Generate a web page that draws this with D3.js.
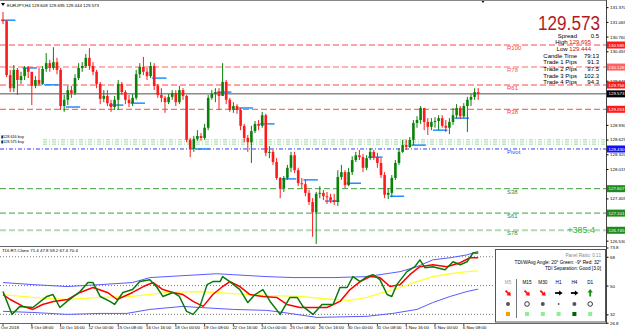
<!DOCTYPE html>
<html>
<head>
<meta charset="utf-8">
<script src="https://cdnjs.cloudflare.com/ajax/libs/d3/7.8.5/d3.min.js"></script>
<style>
  body { margin: 0; background: #fff; }
  svg { display: block; font-family: "Liberation Sans", Arial, sans-serif; }
</style>
</head>
<body>
<div id="chart"></div>
<script>
// ----- data -----
const symbolHeader = "EURJPY,H4  129.608 129.695 129.444 129.573";
const firstOpen = 131.10;
const lastOpen = 129.608;

const closes = [
  131.08, 129.96, 129.69, 130.07, 129.86, 129.94, 130.11, 130.03, 129.74, 129.86,
  129.78, 130.09, 130.21, 130.11, 130.23, 130.07, 129.32, 129.45, 129.65, 129.59,
  129.90, 130.11, 130.15, 130.32, 130.15, 130.03, 129.78, 129.47, 129.53, 129.38,
  129.30, 129.45, 129.78, 129.61, 129.45, 129.38, 129.49, 129.98, 130.13, 130.03,
  129.94, 130.15, 129.74, 129.55, 129.49, 129.40, 129.51, 129.59, 129.40, 129.65,
  129.53, 128.62, 128.43, 128.64, 128.70, 128.66, 128.87, 129.49, 129.57, 129.61,
  129.53, 129.82, 129.45, 129.24, 129.32, 129.24, 128.91, 128.66, 128.57, 128.80,
  128.95, 128.91, 129.13, 128.35, 128.37, 128.16, 127.83, 127.62, 127.83, 128.04,
  128.30, 127.99, 127.72, 127.70, 127.52, 127.33, 127.12, 127.50, 127.52, 127.45,
  127.43, 127.37, 127.33, 127.85, 127.95, 127.68, 127.95, 128.20, 128.30, 128.26,
  128.04, 128.24, 128.37, 128.26, 128.14, 127.89, 127.48, 127.52, 127.83, 128.14,
  128.37, 128.51, 128.47, 128.62, 128.97, 129.03, 129.28, 128.99, 128.89, 128.99,
  129.01, 129.07, 128.91, 128.87, 128.99, 129.13, 129.28, 129.11, 129.32, 129.45,
  129.51, 129.608, 129.573
];
const highs = [
  131.27, 131.10, 130.07, 130.17, 130.11, 130.03, 130.15, 130.15, 129.98, 129.94,
  130.11, 130.15, 130.42, 130.28, 130.54, 130.32, 130.11, 129.55, 129.74, 129.74,
  129.98, 130.21, 130.23, 130.40, 130.52, 130.23, 130.07, 129.82, 129.65, 129.65,
  129.45, 129.53, 129.86, 129.82, 129.65, 129.55, 129.57, 130.07, 130.21, 130.34,
  130.11, 130.23, 130.21, 129.78, 129.69, 129.53, 129.57, 129.65, 129.65, 129.74,
  129.69, 129.55, 128.66, 128.70, 128.82, 128.76, 128.95, 129.55, 129.65, 129.69,
  129.69, 130.21, 129.86, 129.49, 129.40, 129.36, 129.28, 128.95, 128.72, 128.91,
  129.01, 129.03, 129.20, 129.16, 128.49, 128.41, 128.24, 127.85, 127.87, 128.10,
  128.37, 128.37, 128.04, 127.83, 127.79, 127.58, 127.41, 127.54, 127.66, 127.58,
  127.54, 127.50, 127.50, 127.99, 128.10, 127.99, 128.04, 128.28, 128.37, 128.41,
  128.33, 128.30, 128.45, 128.41, 128.35, 128.24, 127.95, 127.62, 127.89, 128.20,
  128.45, 128.62, 128.62, 128.68, 129.03, 129.11, 129.32, 129.28, 129.07, 129.07,
  129.09, 129.13, 129.13, 129.03, 129.07, 129.28, 129.36, 129.32, 129.38, 129.51,
  129.57, 129.69, 129.695
];
const lows = [
  131.02, 129.92, 129.61, 129.61, 129.55, 129.78, 129.86, 129.90, 129.34, 129.69,
  129.74, 129.76, 130.03, 130.03, 130.07, 129.98, 129.24, 129.20, 129.34, 129.49,
  129.55, 129.86, 130.03, 130.11, 130.07, 129.96, 129.69, 129.36, 129.40, 129.32,
  129.20, 129.24, 129.24, 129.55, 129.36, 129.30, 129.32, 129.45, 129.90, 129.96,
  129.86, 129.90, 129.65, 129.49, 129.40, 129.18, 129.36, 129.45, 129.32, 129.36,
  129.45, 128.57, 128.26, 128.37, 128.60, 128.60, 128.62, 128.82, 129.45, 129.40,
  129.24, 129.53, 129.36, 129.20, 129.18, 129.16, 128.82, 128.57, 128.37, 128.14,
  128.76, 128.82, 128.87, 128.28, 128.24, 128.10, 127.79, 127.41, 127.54, 127.79,
  127.95, 127.93, 127.66, 127.62, 127.45, 127.27, 126.61, 126.46, 127.41, 127.37,
  127.29, 127.31, 127.27, 127.25, 127.79, 127.62, 127.66, 127.89, 128.16, 128.20,
  127.95, 127.99, 128.20, 128.20, 128.04, 127.83, 127.41, 127.39, 127.43, 127.79,
  128.10, 128.35, 128.41, 128.45, 128.51, 128.87, 128.95, 128.82, 128.72, 128.82,
  128.87, 128.82, 128.87, 128.78, 128.74, 128.93, 129.07, 129.05, 129.07, 128.78,
  129.32, 129.45, 129.444
];

// fib pivot levels
const levelNames = ["R100", "R78", "R61", "R38", "Pivot", "S38", "S61", "S78"];
const levelPrices = [130.585, 130.128, 129.756, 129.253, 128.430, 127.607, 127.101, 126.745];
const bidPrice = 129.573;

// pending buy lines
const buyPrices = [128.62, 128.575, 128.53];
const buyTexts = ["128.616 buy", "128.575 buy"];

// daily open markers
const dayStartIdx = [0, 6, 12, 18, 30, 36, 42, 54, 60, 66, 72, 78, 84, 90, 96, 102, 108, 114, 120, 126];
const dayOpenPrices = [131.10, 130.11, 129.76, 129.30, 129.34, 129.38, 129.90, 128.43, 129.61, 129.28,
                       128.95, 127.81, 127.79, 127.35, 127.72, 128.26, 127.45, 128.51, 128.82, 129.07];

const priceTicks = [131.370, 131.065, 130.760, 130.455, 129.845, 128.930, 128.625, 128.320, 128.015, 127.405, 126.530];

const lastPriceText = "129.573";
const infoLabels = ["Spread", "High", "Low", "Candle Time", "Trade 1 Pips", "Trade 2 Pips", "Trade 3 Pips", "Trade 4 Pips"];
const infoValues = ["0.5", "129.695", "129.444", "79:13", "91.3", "97.5", "102.3", "94.3"];
const profitText = "+385.4";

// TDI panel: [bar index, value]
const tdiHeader = "TDI-RT-Clone 71.4 47.8 59.2 67.4 70.4";
const tdiUpper = [[0,51.9],[8.3,50.6],[17.8,49.4],[27,50.6],[36,51.9],[40.8,55],[50,56.2],[59.4,57.4],[64,56.8],
  [73.3,55.6],[80.6,55],[91.7,55],[101.1,55.6],[110.3,58.7],[115,61.8],[119.4,66.1],[124.2,67.4],[128.9,69.2],[132,71.4]];
const tdiLower = [[0,33.9],[8.3,33.2],[17.8,32],[27,32.6],[34.4,32.6],[40.8,35.1],[50,37],[54.7,36.3],[64,35.1],
  [73.3,34.5],[77.8,33.2],[87.2,30.1],[101.1,30.8],[108.3,32.6],[115,35.1],[119.4,39.4],[124.2,43.2],[128.9,46.3],[132,47.8]];
const tdiBase = [[0,44.4],[8.3,42.6],[17.8,41.3],[27,42.6],[36,43.2],[45.6,45.7],[54.7,46.3],[64,45],[73.3,43.8],
  [82.5,43.2],[91.7,41.3],[96.4,40.7],[101.1,42.6],[105.6,45.7],[110.3,48.8],[115,52.5],[119.4,55.6],[124.2,57.4],[128.9,58.7],[132,59.2]];
const tdiSignal = [[0,44.4],[2,41.3],[5.6,37],[8.3,35.1],[11,38.2],[14,40.1],[18,41.3],[21.4,45.7],[25,48.8],[29,45.7],
  [31.7,41.3],[36,45.7],[39,49.4],[41.7,51.9],[44.4,47.5],[47.2,45.7],[50,44.4],[52.8,40.1],[55.6,37],[58.3,44.4],
  [61,49.4],[63,52.5],[65.8,49.4],[68.6,44.4],[72.2,43.2],[76,42.6],[78.9,38.2],[82.5,36.3],[86,36.3],[90,36.3],
  [93.6,40.1],[96.4,47.5],[99.2,52.5],[102,55.6],[104.7,55],[107.5,49.4],[110.3,50.6],[113,56.8],[115.8,61.8],
  [119.4,63],[123.3,61.8],[127,64.3],[129.7,67.4],[132,67.4]];
const tdiPrice = [[0,46.3],[2.5,32],[4.7,37],[8.3,36.3],[12.2,43.2],[13.9,44.4],[15.8,36.3],[17.8,40.1],[21.4,46.3],
  [23.6,51.9],[25,51.9],[27,43.2],[29.7,40.1],[31,38.2],[33.3,45.7],[36,47.5],[38,52.5],[40.8,53.7],[42.8,48.8],
  [44.4,43.2],[47.2,45.7],[49,43.2],[51,33.9],[52.8,32],[54.7,37],[56.7,50.6],[58.3,52.5],[60.3,52.5],[61,55.6],
  [63,52.5],[65.8,47.5],[68,39.4],[70,44.4],[72.2,47.5],[74.2,40.1],[77,32],[79.7,42.6],[81.7,42.6],[83.3,37],
  [86.1,32],[88.6,38.2],[91.7,38.2],[93.6,48.8],[95.6,48.8],[97.2,55.6],[99.2,52.5],[101.1,55.6],[102.8,56.8],
  [104.7,53.7],[106.7,44.4],[108,43.2],[109.4,50.6],[112.2,58.7],[114.4,61.8],[115.8,66.1],[117.2,61.2],[119.4,61.8],
  [122.8,59.9],[125,64.9],[127,63],[128.9,64.9],[130.6,70.5],[132,70.4]];
const tdiLevels = [68, 50, 32];
const tdiTicks = [73.8, 68, 50, 32, 26.8];
const tdiTickLabels = ["73.8", "68", "50", "32", "26.8"];

const panelLines = ["Panel Ratio: 0.11", "TDI/WAvg Angle: 20°  Green: -9°  Red: 32°", "TDI Separation: Good [3.0]"];
const timeframes = ["M5", "M15", "M30", "H1", "H4", "D1"];
const tfArrowAngle = [45, 45, 45, 0, 0, -90];
const tfDot = ["dot", "ring", "dot", "small", "dot", "ring"];
const tfSignal = ["warn", "ok", "ok", "ok", "strong", "ok"];

const timeIdx = [0, 8, 16, 24, 32, 40, 48, 56, 64, 72, 80, 88, 96, 104, 112, 120, 128];
const timeLabels = ["Oct 2018", "9 Oct 08:00", "10 Oct 16:00", "12 Oct 00:00", "15 Oct 08:00", "16 Oct 16:00",
  "18 Oct 00:00", "19 Oct 08:00", "22 Oct 16:00", "24 Oct 00:00", "25 Oct 08:00", "26 Oct 16:00",
  "30 Oct 00:00", "31 Oct 08:00", "1 Nov 16:00", "5 Nov 00:00", "6 Nov 08:00"];

// ----- layout -----
const W = 625, H = 331;
const plotRight = 606;
const mainTop = 1, mainBottom = 246;
const tdiTop = 247, tdiBottom = 323;
const smallFont = 4.4;

const svg = d3.select("#chart").append("svg")
    .attr("width", W)
    .attr("height", H);

svg.append("rect").attr("width", W).attr("height", H).attr("fill", "#fff");

const defs = svg.append("defs");
defs.append("clipPath").attr("id", "clipMain").append("rect")
    .attr("x", 0).attr("y", mainTop).attr("width", plotRight).attr("height", mainBottom - mainTop);
defs.append("clipPath").attr("id", "clipTdi").append("rect")
    .attr("x", 0).attr("y", tdiTop).attr("width", plotRight).attr("height", tdiBottom - tdiTop);

const x = d3.scaleLinear().domain([0, 132]).range([3, 478.2]);
const y = d3.scaleLinear().domain([126.45, 131.45]).range([244.5, 3.3]);
const yT = d3.scaleLinear().domain([26.8, 73.8]).range([322.7, 247.5]);

const main = svg.append("g").attr("clip-path", "url(#clipMain)");

// level lines
function levelStyle(name) {
    if (name === "R78") return { c: "#ffb3b3", w: 2, d: "6,3", t: "#ff5a5a" };
    if (name === "Pivot") return { c: "#3a3aff", w: 1, d: "4,2,1,2", t: "#3a3aff" };
    if (name === "S78") return { c: "#b0dcb0", w: 2, d: "6,3", t: "#3c8c3c" };
    if (name[0] === "S") return { c: "#3aa03a", w: 1, d: "6,3", t: "#3c8c3c" };
    return { c: "#ff4a4a", w: 1, d: "6,3", t: "#ff4040" };
}

main.selectAll(".level")
    .data(levelNames)
    .enter().append("line")
    .attr("class", "level")
    .attr("x1", 0).attr("x2", plotRight)
    .attr("y1", (d, i) => y(levelPrices[i]))
    .attr("y2", (d, i) => y(levelPrices[i]))
    .attr("stroke", d => levelStyle(d).c)
    .attr("stroke-width", d => levelStyle(d).w)
    .attr("stroke-dasharray", d => levelStyle(d).d);

// buy lines
main.selectAll(".buy")
    .data(buyPrices)
    .enter().append("line")
    .attr("x1", 43).attr("x2", plotRight)
    .attr("y1", d => y(d)).attr("y2", d => y(d))
    .attr("stroke", "#9fdc9f")
    .attr("stroke-width", 1)
    .attr("stroke-dasharray", "4,2,1,2");

main.selectAll(".buytext")
    .data(buyTexts)
    .enter().append("text")
    .attr("x", 1)
    .attr("y", (d, i) => y(buyPrices[0]) - 1.5 + i * 4.2)
    .style("font-size", "3.8px")
    .style("fill", "#000")
    .text(d => "\u25AE" + d);

// bid line
main.append("line")
    .attr("x1", 0).attr("x2", plotRight)
    .attr("y1", y(bidPrice)).attr("y2", y(bidPrice))
    .attr("stroke", "#505050").attr("stroke-width", 1);

// daily open markers
main.selectAll(".dayopen")
    .data(dayStartIdx)
    .enter().append("line")
    .attr("x1", d => x(d) - 2)
    .attr("x2", d => x(d + 4) - 2)
    .attr("y1", (d, i) => y(dayOpenPrices[i]))
    .attr("y2", (d, i) => y(dayOpenPrices[i]))
    .attr("stroke", "#1e8fff")
    .attr("stroke-width", 1.5);

// candles
const candles = closes.map((c, i) => ({
    i: i,
    o: i === 0 ? firstOpen : (i === closes.length - 1 ? lastOpen : closes[i - 1]),
    h: highs[i], l: lows[i], c: c
}));
const bull = "#0a820a", bear = "#ff1a1a";

main.selectAll(".wick")
    .data(candles)
    .enter().append("line")
    .attr("x1", d => x(d.i)).attr("x2", d => x(d.i))
    .attr("y1", d => y(d.h)).attr("y2", d => y(d.l))
    .attr("stroke", d => d.c >= d.o ? bull : bear)
    .attr("stroke-width", 1);

main.selectAll(".body")
    .data(candles)
    .enter().append("rect")
    .attr("x", d => x(d.i) - 1.3)
    .attr("width", 2.6)
    .attr("y", d => y(Math.max(d.o, d.c)))
    .attr("height", d => Math.max(1, Math.abs(y(d.o) - y(d.c))))
    .attr("fill", d => d.c >= d.o ? bull : bear);

// level names
svg.selectAll(".levelname")
    .data(levelNames)
    .enter().append("text")
    .attr("x", 507)
    .attr("y", (d, i) => y(levelPrices[i]) + 5)
    .style("font-size", "6px")
    .style("fill", d => levelStyle(d).t)
    .text(d => d);

// symbol header
svg.append("path").attr("d", "M1,3 L5,3 L3,6 Z").attr("fill", "#000");
svg.append("text").attr("x", 7).attr("y", 6.5)
    .style("font-size", smallFont + "px").style("fill", "#000").text(symbolHeader);
svg.append("path").attr("d", "M481,0 L485,0 L483,3 Z").attr("fill", "#000");

// info block
svg.append("text")
    .attr("x", 600).attr("y", 30)
    .attr("text-anchor", "end")
    .attr("textLength", 62).attr("lengthAdjust", "spacingAndGlyphs")
    .style("font-size", "20px").style("fill", "#b31b1b")
    .text(lastPriceText);

infoLabels.forEach((lab, k) => {
    const yy = 37.5 + k * 6.7;
    if (lab === "High" || lab === "Low") {
        const t = svg.append("text").attr("x", 591).attr("y", yy)
            .attr("text-anchor", "end").style("font-size", "6px");
        t.append("tspan").style("fill", "#000").text(lab + " ");
        t.append("tspan").style("fill", "#d01010").text(infoValues[k]);
    } else {
        svg.append("text").attr("x", 577).attr("y", yy).attr("text-anchor", "end")
            .style("font-size", "6px").style("fill", "#000").text(lab);
        svg.append("text").attr("x", 599).attr("y", yy).attr("text-anchor", "end")
            .style("font-size", "6px").style("fill", "#000").text(infoValues[k]);
    }
});

svg.append("text")
    .attr("x", 595).attr("y", 233)
    .attr("text-anchor", "end")
    .style("font-size", "9px").style("fill", "#3cb43c")
    .text(profitText);

// ----- TDI panel -----
const tdi = svg.append("g").attr("clip-path", "url(#clipTdi)");

tdi.selectAll(".tdilevel")
    .data(tdiLevels)
    .enter().append("line")
    .attr("x1", 0).attr("x2", plotRight)
    .attr("y1", d => yT(d)).attr("y2", d => yT(d))
    .attr("stroke", "#777").attr("stroke-dasharray", "1,2");

const tdiLine = d3.line().x(d => x(d[0])).y(d => yT(d[1]));
const tdiSeries = [
    { pts: tdiUpper, c: "#5a5aff", w: 1 },
    { pts: tdiLower, c: "#5a5aff", w: 1 },
    { pts: tdiBase, c: "#ffff30", w: 1.3 },
    { pts: tdiSignal, c: "#ff0000", w: 1.5 },
    { pts: tdiPrice, c: "#0a7a0a", w: 1.5 }
];
tdi.selectAll(".tdiline")
    .data(tdiSeries)
    .enter().append("path")
    .attr("d", d => tdiLine(d.pts))
    .attr("fill", "none")
    .attr("stroke", d => d.c)
    .attr("stroke-width", d => d.w)
    .attr("stroke-linejoin", "round");

svg.append("text").attr("x", 2).attr("y", 252)
    .style("font-size", smallFont + "px").style("fill", "#000").text(tdiHeader);

// signal box
svg.append("rect")
    .attr("x", 495.5).attr("y", 249.5).attr("width", 110).attr("height", 72.5)
    .attr("fill", "#fff").attr("stroke", "#555");

panelLines.forEach((t, k) => {
    svg.append("text").attr("x", 601).attr("y", 257 + k * 6.6)
        .attr("text-anchor", "end")
        .style("font-size", "4.7px")
        .style("fill", k === 0 ? "#888" : "#000")
        .text(t);
});

const colX = i => i === 0 ? 508 : 527 + (i - 1) * 15.8;

svg.append("line").attr("x1", 516.5).attr("x2", 516.5).attr("y1", 279).attr("y2", 318)
    .attr("stroke", "#777");

svg.selectAll(".tf")
    .data(timeframes)
    .enter().append("text")
    .attr("x", (d, i) => colX(i)).attr("y", 284)
    .attr("text-anchor", "middle")
    .style("font-size", "4.7px")
    .style("fill", (d, i) => i === 0 ? "#999" : "#000")
    .text(d => d);

const arrows = svg.selectAll(".arrow")
    .data(tfArrowAngle)
    .enter().append("g")
    .attr("transform", (d, i) => `translate(${colX(i)},293) rotate(${d})`);
const arrowColor = a => a > 0 ? "#ff1010" : (a < 0 ? "#109010" : "#000");
arrows.append("line").attr("x1", -3.5).attr("x2", 1.5).attr("y1", 0).attr("y2", 0)
    .attr("stroke", d => arrowColor(d)).attr("stroke-width", 1.8);
arrows.append("path").attr("d", "M0.5,-2.6 L4,0 L0.5,2.6 Z")
    .attr("fill", d => arrowColor(d));

svg.selectAll(".tfdot")
    .data(tfDot)
    .enter().append("circle")
    .attr("cx", (d, i) => colX(i)).attr("cy", 304)
    .attr("r", d => d === "ring" ? 2.3 : (d === "small" ? 0.9 : 2))
    .attr("fill", d => d === "ring" ? "#fff" : "#555")
    .attr("stroke", d => d === "ring" ? "#222" : "none")
    .attr("stroke-width", 0.9);

const signalColor = { warn: "#ff9a00", ok: "#90ee90", strong: "#006400" };
svg.selectAll(".tfsig")
    .data(tfSignal)
    .enter().append("rect")
    .attr("x", (d, i) => colX(i) - 2).attr("y", 312)
    .attr("width", 4).attr("height", 4)
    .attr("fill", d => signalColor[d]);

// ----- frame -----
svg.append("line").attr("x1", 0).attr("x2", plotRight).attr("y1", 0.5).attr("y2", 0.5).attr("stroke", "#888");
svg.append("line").attr("x1", 0).attr("x2", plotRight).attr("y1", mainBottom + 0.5).attr("y2", mainBottom + 0.5).attr("stroke", "#666");
svg.append("line").attr("x1", 0).attr("x2", plotRight).attr("y1", tdiBottom + 0.5).attr("y2", tdiBottom + 0.5).attr("stroke", "#666");
svg.append("line").attr("x1", plotRight + 0.5).attr("x2", plotRight + 0.5).attr("y1", 0).attr("y2", tdiBottom + 1).attr("stroke", "#444");

// price axis
const priceAxis = svg.append("g")
    .attr("transform", `translate(${plotRight + 0.5},0)`)
    .call(d3.axisRight(y).tickValues(priceTicks).tickFormat(d3.format(".3f")).tickSize(2).tickPadding(1.5));
priceAxis.select(".domain").remove();
priceAxis.selectAll("text").style("font-size", smallFont + "px").style("font-family", "Liberation Sans, Arial, sans-serif");

const tdiAxis = svg.append("g")
    .attr("transform", `translate(${plotRight + 0.5},0)`)
    .call(d3.axisRight(yT).tickValues(tdiTicks).tickFormat((d, i) => tdiTickLabels[i]).tickSize(2).tickPadding(1.5));
tdiAxis.select(".domain").remove();
tdiAxis.selectAll("text").style("font-size", smallFont + "px").style("font-family", "Liberation Sans, Arial, sans-serif");

// coloured price tags
function tagColor(name) {
    if (name === "R78") return "#ff6060";
    if (name === "Pivot") return "#1010ff";
    if (name[0] === "S") return "#1f8a1f";
    return "#ff1a1a";
}
const tags = levelNames.map((n, i) => ({ p: levelPrices[i], c: tagColor(n) }));
tags.push({ p: bidPrice, c: "#000" });

svg.selectAll(".tag")
    .data(tags)
    .enter().append("rect")
    .attr("x", plotRight + 1).attr("width", 18)
    .attr("y", d => y(d.p) - 3.5).attr("height", 7)
    .attr("fill", d => d.c);

svg.selectAll(".tagtext")
    .data(tags)
    .enter().append("text")
    .attr("x", plotRight + 2.5)
    .attr("y", d => y(d.p) + 1.6)
    .style("font-size", smallFont + "px")
    .style("fill", "#fff")
    .text(d => d.p.toFixed(3));

// time axis
svg.selectAll(".ttick")
    .data(timeIdx)
    .enter().append("line")
    .attr("x1", d => x(d)).attr("x2", d => x(d))
    .attr("y1", tdiBottom + 1).attr("y2", tdiBottom + 3)
    .attr("stroke", "#444");

svg.selectAll(".tlabel")
    .data(timeLabels)
    .enter().append("text")
    .attr("x", (d, i) => i === 0 ? 1 : x(timeIdx[i]) - 1)
    .attr("y", 329)
    .style("font-size", smallFont + "px")
    .style("fill", "#000")
    .text(d => d);
</script>
</body>
</html>
